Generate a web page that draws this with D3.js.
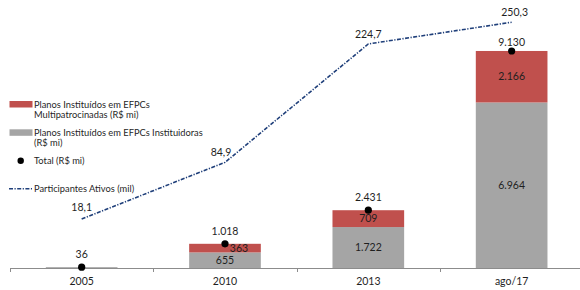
<!DOCTYPE html>
<html><head><meta charset="utf-8">
<script src="https://cdn.jsdelivr.net/npm/d3@7"></script>
<style>body{margin:0;background:#fff}svg{display:block}text{font-family:Lato,"Open Sans",sans-serif;fill:#1f1f1f}</style>
</head><body><svg id="c" width="580" height="290"></svg>
<script>
const categories = ["2005","2010","2013","ago/17"];
const instituidoras = [36,655,1722,6964];
const multipatrocinadas = [0,363,709,2166];
const totals = [36,1018,2431,9130];
const participantes = [18.1,84.9,224.7,250.3];
const totalLabels = ["36","1.018","2.431","9.130"];
const instLabels = ["","655","1.722","6.964"];
const multLabels = ["","363","709","2.166"];
const partLabels = ["18,1","84,9","224,7","250,3"];
const legendItems = ["Planos Instituídos em EFPCs|Multipatrocinadas (R$ mi)","Planos Instituídos em EFPCs Instituidoras|(R$ mi)","Total (R$ mi)","Participantes Ativos (mil)"];

const svg = d3.select("#c");
const RED="#C0504D", GRAY="#A5A5A5", BLUE="#1F3F7A";
const x = d3.scaleBand().domain(categories).range([10,583.3]).paddingInner(0.5).paddingOuter(0.25);
const y = d3.scaleLinear().domain([0,10000]).range([268,30.3]);
const y2 = d3.scaleLinear().domain([0,250]).range([234.3,22.5]);
const cx = d => x(d)+x.bandwidth()/2;
const fs = "10.5px";

// bars
const g = svg.append("g");
categories.forEach((c,i)=>{
  const ib = instituidoras[i], mb = multipatrocinadas[i];
  g.append("rect").attr("x",x(c)).attr("width",x.bandwidth()).attr("y",y(ib)).attr("height",y(0)-y(ib)).attr("fill",GRAY);
  if(mb>0) g.append("rect").attr("x",x(c)).attr("width",x.bandwidth()).attr("y",y(ib+mb)).attr("height",y(ib)-y(ib+mb)).attr("fill",RED);
  if(instLabels[i]) g.append("text").attr("x",cx(c)).attr("y",(y(0)+y(ib))/2).attr("dy","0.35em").attr("text-anchor","middle").style("font-size",fs).text(instLabels[i]);
  if(multLabels[i]) g.append("text").attr("x",cx(c)+(i===1?14:0)).attr("y",(y(ib)+y(ib+mb))/2).attr("dy","0.35em").attr("text-anchor","middle").style("font-size",fs).text(multLabels[i]);
});

// axis
const step = x.step();
svg.append("line").attr("x1",10).attr("x2",580).attr("y1",268.5).attr("y2",268.5).attr("stroke","#8c8c8c");
d3.range(5).forEach(k=>{
  const tx = Math.round(10+k*step)+0.5;
  svg.append("line").attr("x1",tx).attr("x2",tx).attr("y1",268).attr("y2",272).attr("stroke","#8c8c8c");
});
categories.forEach(c=>svg.append("text").attr("x",cx(c)).attr("y",281).attr("dy","0.35em").attr("text-anchor","middle").style("font-size",fs).text(c));

// totals
categories.forEach((c,i)=>{
  svg.append("circle").attr("cx",cx(c)).attr("cy",y(totals[i])).attr("r",3.6).attr("fill","#000");
  svg.append("text").attr("x",cx(c)).attr("y",y(totals[i])-(i===3?8.5:12.5)).attr("dy","0.35em").attr("text-anchor","middle").style("font-size",fs).text(totalLabels[i]);
});

// line
const line = d3.line().x((d,i)=>cx(categories[i])).y(d=>y2(d));
svg.append("path").datum(participantes).attr("d",line).attr("fill","none").attr("stroke",BLUE).attr("stroke-width",1.6).attr("stroke-dasharray","4,1.5,1.2,1.5");
categories.forEach((c,i)=>{
  svg.append("text").attr("x",cx(c)+(i===3?3:(i===1?-4:0))).attr("y",y2(participantes[i])-(i===0?12:10)).attr("dy","0.35em").attr("text-anchor","middle").style("font-size",fs).text(partLabels[i]);
});

// legend
const lg = svg.append("g");
const addText=(str,tx,ty)=>{str.split("|").forEach((s,j)=>lg.append("text").attr("x",tx).attr("y",ty+j*9.6).attr("dy","0.35em").style("font-size","9.3px").text(s));};
lg.append("rect").attr("x",9.5).attr("y",101).attr("width",23).attr("height",6.5).attr("fill",RED);
addText(legendItems[0],34,105);
lg.append("rect").attr("x",9.5).attr("y",129.3).attr("width",23).attr("height",6.5).attr("fill",GRAY);
addText(legendItems[1],34,133);
lg.append("circle").attr("cx",20.7).attr("cy",160.7).attr("r",3.2).attr("fill","#000");
addText(legendItems[2],34,160.7);
lg.append("line").attr("x1",9).attr("x2",32).attr("y1",188.7).attr("y2",188.7).attr("stroke",BLUE).attr("stroke-width",1.6).attr("stroke-dasharray","4,1.5,1.2,1.5");
addText(legendItems[3],34,188.7);
</script></body></html>
